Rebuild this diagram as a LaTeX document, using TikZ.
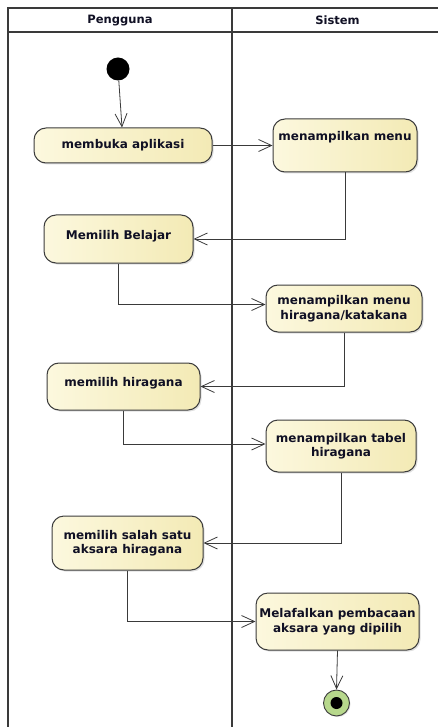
\documentclass[tikz,border=0pt]{standalone}
\usepackage{fontspec}
\setmainfont{DejaVu Sans}
\usetikzlibrary{arrows.meta,shadows}
\definecolor{actleft}{HTML}{FCF8DE}
\definecolor{actright}{HTML}{F3EAB5}
\definecolor{actborder}{HTML}{3C3C3C}
\definecolor{endgreen}{HTML}{B7D88C}
\definecolor{linecol}{HTML}{3A3A3A}
\definecolor{txtcol}{HTML}{101024}
\begin{document}
\begin{tikzpicture}[x=1pt,y=-1pt,
  action/.style={draw=actborder, line width=1pt, rounded corners=12pt,
    left color=actleft, right color=actright, align=center,
    inner sep=2pt, text=txtcol,
    font=\fontsize{12}{14.5}\selectfont\bfseries,
    drop shadow={shadow xshift=1.5pt, shadow yshift=-1.5pt, opacity=0.25}},
  flow/.style={draw=linecol, line width=0.8pt,
    -{Straight Barb[length=13pt,width=12pt,line width=0.8pt]}},
  lane/.style={draw=linecol, line width=1.3pt},
  lanetitle/.style={font=\fontsize{11.5}{13}\selectfont\bfseries, text=txtcol}]
\clip (0,0) rectangle (438,727);
\fill[white] (0,0) rectangle (438,727);

% swimlanes
\draw[lane] (8,745) -- (8,8) -- (450,8);
\draw[lane] (8,32) -- (450,32);
\draw[lane] (232,8) -- (232,745);
\node[lanetitle] (lane1) at (120,20.5) {Pengguna};
\node[lanetitle] (lane2) at (337.5,20.5) {Sistem};

% start and end
\node[circle, fill=black, minimum size=23pt, inner sep=0pt] (start) at (118,69) {};
\node[circle, draw=actborder, line width=0.9pt, fill=endgreen, minimum size=26pt, inner sep=0pt,
  drop shadow={shadow xshift=1pt, shadow yshift=-1pt, opacity=0.25}] (end) at (336.5,703) {};
\node[circle, fill=black, minimum size=12pt, inner sep=0pt] (endin) at (end.center) {};

% actions
\node[action, minimum width=178pt, minimum height=35pt] (n1) at (123,145.5) {membuka aplikasi};
\node[action, minimum width=144pt, minimum height=53pt] (s1) at (345,145.5) {menampilkan menu\\[4pt]};
\node[action, minimum width=149pt, minimum height=48pt] (n2) at (118.5,239) {Memilih Belajar\\[-6pt]};
\node[action, minimum width=156pt, minimum height=47pt] (s2) at (344,308.5) {menampilkan menu\\hiragana/katakana};
\node[action, minimum width=153pt, minimum height=47pt] (n3) at (123.5,386.5) {memilih hiragana\\[-6pt]};
\node[action, minimum width=150pt, minimum height=52pt] (s3) at (341,446) {menampilkan tabel\\hiragana};
\node[action, minimum width=151pt, minimum height=54pt] (n4) at (127.5,543) {memilih salah satu\\aksara hiragana};
\node[action, minimum width=163pt, minimum height=57pt] (s4) at (337.5,621.5) {Melafalkan pembacaan\\aksara yang dipilih};

% control flow
\draw[flow] (start) -- ([xshift=-1pt]n1.north);
\draw[flow] (n1.east) -- (s1.west |- n1.east);
\draw[flow] (s1.south) |- (n2.east);
\draw[flow] (n2.south) |- ([yshift=4pt]s2.west);
\draw[flow] (s2.south) |- (n3.east);
\draw[flow] (n3.south) |- ([yshift=2pt]s3.west);
\draw[flow] (s3.south) |- (n4.east);
\draw[flow] (n4.south) |- (s4.west);
\draw[flow] (s4.south) -- (end.north);
\end{tikzpicture}
\end{document}
